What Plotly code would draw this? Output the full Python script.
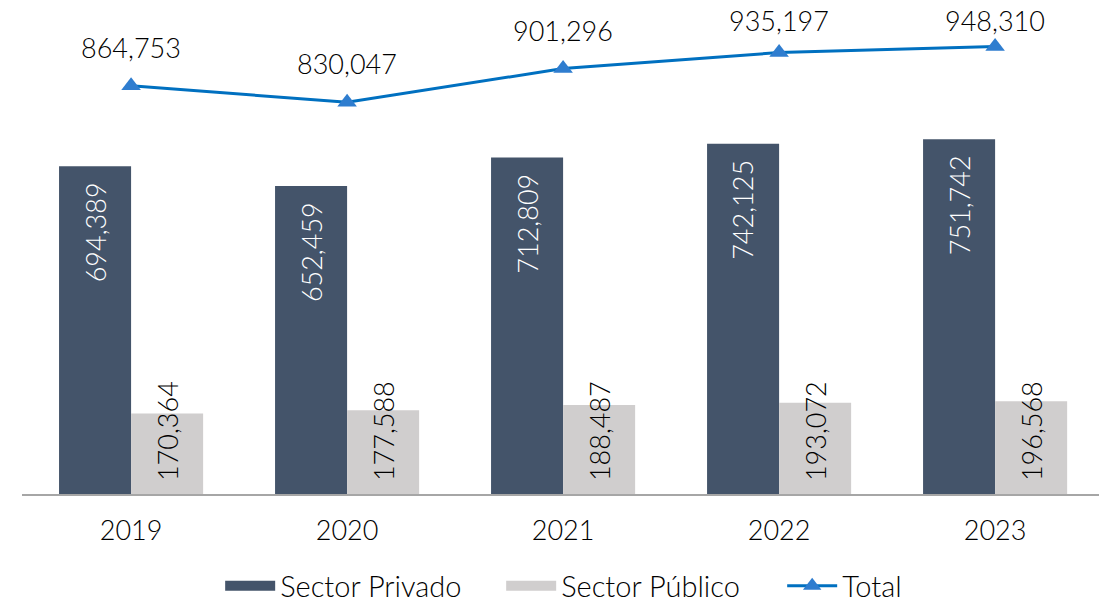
import plotly.graph_objects as go

years = ["2019", "2020", "2021", "2022", "2023"]
privado = [694389, 652459, 712809, 742125, 751742]
publico = [170364, 177588, 188487, 193072, 196568]
total = [864753, 830047, 901296, 935197, 948310]

FONT = "Lato"
C_PRIV, C_PUB, C_LINE, C_MARK = "#44546A", "#D0CECE", "#0070C0", "#2F7DCF"
fmt = lambda v: f"{v:,}"
lbl = dict(size=27, family=FONT, weight=300)

W, H = 1099, 605
M = dict(l=22, r=0, t=10, b=111)
PLOT_H = H - M["t"] - M["b"]
YMAX = 1025400

fig = go.Figure()
fig.add_trace(go.Bar(x=years, y=privado, name="Sector Privado", showlegend=False,
                     marker=dict(color=C_PRIV, line=dict(width=0))))
fig.add_trace(go.Bar(x=years, y=publico, name="Sector Público", showlegend=False,
                     marker=dict(color=C_PUB, line=dict(width=0))))
fig.add_trace(go.Scatter(x=years, y=total, name="Total", mode="lines+markers",
                         line=dict(color=C_LINE, width=3), showlegend=False,
                         marker=dict(symbol="triangle-up", size=17, color=C_MARK),
                         cliponaxis=False))
# legend entries (wide swatches like the reference)
fig.add_trace(go.Scatter(x=[None], y=[None], mode="lines", name="Sector Privado",
                         line=dict(color=C_PRIV, width=20)))
fig.add_trace(go.Scatter(x=[None], y=[None], mode="lines", name="Sector Público",
                         line=dict(color=C_PUB, width=20)))
fig.add_trace(go.Scatter(x=[None], y=[None], mode="lines+markers", name="Total",
                         line=dict(color=C_LINE, width=3),
                         marker=dict(symbol="triangle-up", size=17, color=C_MARK)))

annotations = []
for i, v in enumerate(privado):
    annotations.append(dict(x=i, y=v, xref="x", yref="y", text=fmt(v), textangle=-90,
                            showarrow=False, xanchor="center", yanchor="top",
                            xshift=-36, yshift=-14, font=dict(color="#FFFFFF", **lbl)))
for i, v in enumerate(publico):
    annotations.append(dict(x=i, y=0, xref="x", yref="y", text=fmt(v), textangle=-90,
                            showarrow=False, xanchor="center", yanchor="bottom",
                            xshift=36, yshift=11, font=dict(color="#000000", **lbl)))
for i, v in enumerate(total):
    dist_top = (YMAX - v) / YMAX * PLOT_H          # pixels from plot top to marker
    shift = min(20, dist_top - 29)                  # keep labels inside the page
    annotations.append(dict(x=i, y=v, xref="x", yref="y", text=fmt(v),
                            showarrow=False, xanchor="center", yanchor="bottom",
                            yshift=shift, font=dict(color="#000000", **lbl)))

fig.update_layout(
    width=W, height=H,
    margin=dict(**M, autoexpand=False),
    paper_bgcolor="white", plot_bgcolor="white",
    barmode="group", bargap=0.333, bargroupgap=0,
    font=dict(family=FONT, size=27, color="#000000", weight=300),
    showlegend=True,
    legend=dict(orientation="h", x=0.184, xanchor="left", y=-0.19, yanchor="middle",
                font=dict(size=29, family=FONT, weight=300), traceorder="normal",
                itemwidth=50, tracegroupgap=0, entrywidth=216, entrywidthmode="pixels"),
    xaxis=dict(type="category", range=[-0.505, 4.481], showline=True,
               linecolor="#A6A6A6", linewidth=1.5, ticks="", showgrid=False,
               ticklabelstandoff=12,
               automargin=False, tickfont=dict(size=27, family=FONT, weight=300)),
    yaxis=dict(range=[0, YMAX], showticklabels=False, showline=False,
               showgrid=False, zeroline=False, ticks="", automargin=False),
    annotations=annotations,
)

fig.write_html("out.html", post_script="document.body.style.margin='0';",
               config={"displayModeBar": False})
